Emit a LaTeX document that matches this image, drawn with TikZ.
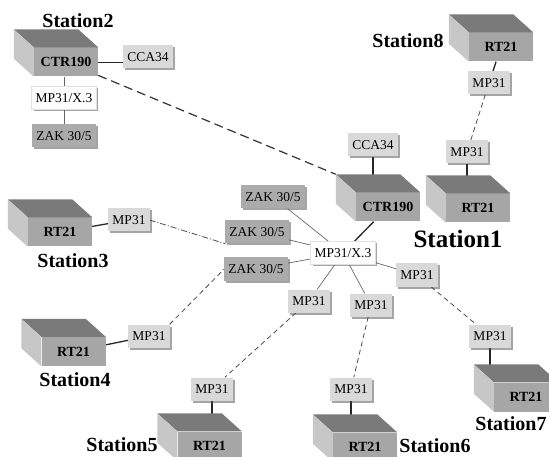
\documentclass[tikz,border=0pt]{standalone}
\usepackage{fontspec}
\setmainfont{Liberation Serif}
\usetikzlibrary{calc, shadows, backgrounds}
\tikzset{
  unit/.style={inner xsep=4pt, inner ysep=0pt, minimum height=23pt, text height=9.5pt, text depth=0pt,
    drop shadow={shadow xshift=2pt, shadow yshift=-2pt, fill=black!70}},
  mpbox/.style={unit, fill=black!15},
  zakbox/.style={unit, fill=black!33},
  hubbox/.style={unit, fill=white, draw=black!12},
  front/.style={fill=black!35, minimum width=64pt, minimum height=29pt, inner sep=0pt,
    font=\fontsize{14}{16}\selectfont\bfseries},
  topface/.style={fill=black!52},
  sideface/.style={fill=black!22},
  stlabel/.style={font=\fontsize{20}{22}\selectfont\bfseries, inner sep=0pt},
  link/.style={line width=1.3pt, draw=black!85},
  spoke/.style={line width=0.7pt, draw=black!60},
  dlink/.style={line width=0.8pt, draw=black!70, dash pattern=on 5pt off 3.5pt},
  longdash/.style={line width=1.2pt, draw=black!80, dash pattern=on 9pt off 5pt},
  dotlink/.style={line width=0.8pt, draw=black!70, dash pattern=on 6pt off 2pt on 1pt off 2pt}
}
\begin{document}
\begin{tikzpicture}[x=1pt, y=-1pt, font=\fontsize{13.5}{15}\selectfont]
\useasboundingbox (0,0) rectangle (549,457);
\clip (0,0) rectangle (549,457);
% Station2
\node[front] (s2ctr) at (66,62) {CTR190};
\node[mpbox] (s2cca) at (148,57) {CCA34};
\node[hubbox] (s2mp) at (64,98) {MP31/X.3};
\node[zakbox] (s2zak) at (64,136) {ZAK 30/5};
\node[stlabel] (st2) at (78,21) {Station2};
% Station8
\node[front] (s8rt) at (501,47) {RT21};
\node[mpbox] (s8mpa) at (489,83) {MP31};
\node[mpbox] (s8mpb) at (467,152) {MP31};
\node[stlabel] (st8) at (408,41) {Station8};
% Station1
\node[front] (s1ctr) at (388,207) {CTR190};
\node[front] (s1rt) at (478,208) {RT21};
\node[mpbox] (s1cca) at (373,145) {CCA34};
\node[stlabel, font=\fontsize{25}{28}\selectfont\bfseries] (st1) at (458,239) {Station1};
\node[hubbox] (hub) at (343,253) {MP31/X.3};
\node[zakbox] (zaka) at (273,197) {ZAK 30/5};
\node[zakbox] (zakb) at (257,232) {ZAK 30/5};
\node[zakbox] (zakc) at (256,269) {ZAK 30/5};
\node[mpbox] (mpr) at (417,275) {MP31};
\node[mpbox] (mpll) at (309,301) {MP31};
\node[mpbox] (mpl) at (371,305) {MP31};
% Station3 .. Station7
\node[front] (s3rt) at (60,232) {RT21};
\node[mpbox] (s3mp) at (129,220) {MP31};
\node[stlabel] (st3) at (73,261) {Station3};
\node[front] (s4rt) at (73.5,351.5) {RT21};
\node[mpbox] (s4mp) at (149,336) {MP31};
\node[stlabel] (st4) at (75,380) {Station4};
\node[front] (s5rt) at (209.5,446) {RT21};
\node[mpbox] (s5mp) at (212,389) {MP31};
\node[stlabel] (st5) at (122,445) {Station5};
\node[front] (s6rt) at (365,447) {RT21};
\node[mpbox] (s6mp) at (351,389) {MP31};
\node[stlabel] (st6) at (435,446) {Station6};
\node[front] (s7rt) at (526,397) {RT21};
\node[mpbox] (s7mp) at (490,336) {MP31};
\node[stlabel] (st7) at (511,424) {Station7};
% top and side faces of the stations
\foreach \b in {s2ctr,s8rt,s1ctr,s1rt,s3rt,s4rt,s5rt,s6rt,s7rt}{
  \fill[topface] (\b.north west) -- ++(-20,-18) -- ($(\b.north east)+(-20,-18)$) -- (\b.north east) -- cycle;
  \fill[sideface] (\b.north west) -- ++(-20,-18) -- ($(\b.south west)+(-20,-18)$) -- (\b.south west) -- cycle;
  \coordinate (\b-top) at ($(\b.north)+(-10,-9)$);
}
\begin{scope}[on background layer]
\fill[white] (0,0) rectangle (549,457);
\draw[link, line width=0.8pt] (s2ctr.east) -- (s2ctr.east -| s2cca.west);
\draw[spoke] (s2mp.north) -- (s2mp.north |- s2ctr.south);
\draw[spoke] (s2mp) -- (s2zak);
\draw[longdash] (s2ctr) -- ($(s1ctr.north west)+(-20,-18)$);
\draw[link] (s8rt) -- (s8mpa);
\draw[dlink] (s8mpa) -- (s8mpb);
\draw[link] (s8mpb.south) -- (s8mpb.south |- s1rt-top);
\draw[link] (s1cca.south) -- (s1cca.south |- s1ctr-top);
\draw[link] (s1ctr) -- (hub);
\foreach \z in {zaka,zakb,zakc,mpr,mpll,mpl}
  \draw[spoke] (hub) -- (\z);
\draw[link] (s3rt) -- (s3mp);
\draw[dotlink] (s3mp.east) -- (zakb.south west);
\draw[link] (s4rt) -- (s4mp);
\draw[dlink] (s4mp.north east) -- (zakc.west);
\draw[dlink] (mpll) -- (s5mp);
\draw[link] (s5mp.south) -- (s5mp.south |- s5rt-top);
\draw[dlink] (mpl) -- (s6mp);
\draw[link] (s6mp.south) -- (s6mp.south |- s6rt-top);
\draw[dlink] (mpr) -- (s7mp);
\draw[link] (s7mp.south) -- (s7mp.south |- s7rt-top);
\end{scope}
\end{tikzpicture}
\end{document}
